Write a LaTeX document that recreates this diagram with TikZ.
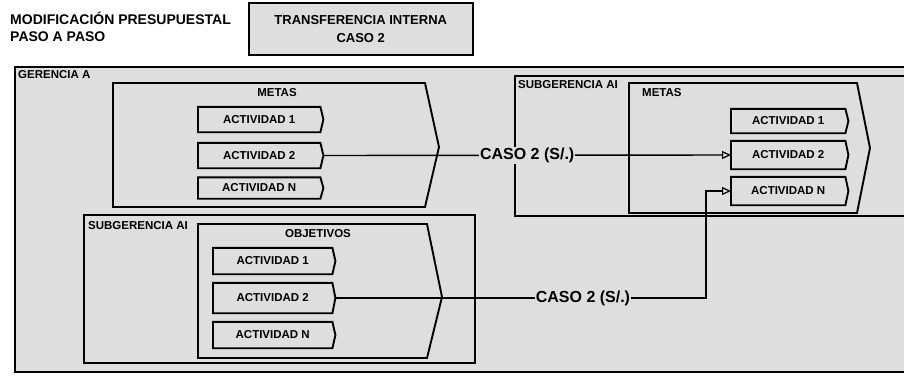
\documentclass[tikz,border=0pt]{standalone}
\usepackage{fontspec}
\setmainfont{Liberation Sans}
\usetikzlibrary{arrows.meta,calc}
\definecolor{stip}{gray}{0.87}
\tikzset{
 lbl/.style={font=\bfseries\fontsize{11.5}{13}\selectfont, inner sep=0pt},
 ttl/.style={font=\bfseries\fontsize{14}{17}\selectfont, inner sep=0pt},
 act/.style={font=\bfseries\fontsize{11.5}{13}\selectfont, inner sep=0pt, anchor=west},
 box/.style={draw, line width=1.9pt, fill=stip},
 outl/.style={draw, line width=1.9pt, line join=miter},
 conn/.style={line width=1.4pt},
 tipa/.style={-{Triangle[open,length=9pt,width=8pt,line width=1.2pt]}},
 caso/.style={font=\bfseries\fontsize{16}{18}\selectfont, fill=stip, inner sep=1pt}
}
\newcommand\chevron[2]{\draw[outl] (#1.north west) -- (#1.north east) -- ([xshift=#2]#1.east) -- (#1.south east) -- (#1.south west) -- cycle;}
\begin{document}
\begin{tikzpicture}[x=1pt,y=-1pt]
\useasboundingbox (0,0) rectangle (904,375);
\clip (0,0) rectangle (904,375);
% title
\node[ttl, anchor=base west] (t1) at (10,24) {MODIFICACIÓN PRESUPUESTAL};
\node[ttl, anchor=base west] (t2) at (10,41) {PASO A PASO};
\node[box, line width=1.5pt, minimum width=224pt, minimum height=52pt, anchor=north west, align=center,
  font=\bfseries\fontsize{13}{18}\selectfont, inner sep=0pt] (tbox) at (248,2) {TRANSFERENCIA INTERNA\\CASO 2};
% containers
\draw[box, line width=2.4pt] (15,67) rectangle (915,372);
\node[lbl, anchor=west] (gerA) at (18,75) {GERENCIA A};
\draw[box] (515,76) rectangle (915,216);
\node[lbl, anchor=west] (subR) at (518,85) {SUBGERENCIA AI};
\draw[box] (84,215) rectangle (475,363);
\node[lbl, anchor=west] (subL) at (88,226) {SUBGERENCIA AI};
% pentagons
\draw[outl] (113,83) -- (425,83) -- (439,147) -- (425,207) -- (113,207) -- cycle;
\node[lbl] (metasL) at (277,93) {METAS};
\draw[outl] (629,83) -- (857,83) -- (870,148) -- (857,213) -- (629,213) -- cycle;
\node[lbl, anchor=west] (metasR) at (642,93) {METAS};
\draw[outl] (198,224) -- (427,224) -- (442,297) -- (427,358) -- (198,358) -- cycle;
\node[lbl] (obj) at (318,234) {OBJETIVOS};
% activities upper-left
\node[act, minimum width=122pt, minimum height=25pt] (a1) at (198,119.5) {ACTIVIDAD 1};
\node[act, minimum width=122pt, minimum height=25pt] (a2) at (198,155.5) {ACTIVIDAD 2};
\node[act, minimum width=122pt, minimum height=21pt] (aN) at (198,188) {ACTIVIDAD N};
\chevron{a1}{3pt}\chevron{a2}{3pt}\chevron{aN}{3pt}
% activities right
\node[act, minimum width=114pt, minimum height=24pt] (r1) at (731,121) {ACTIVIDAD 1};
\node[act, minimum width=114pt, minimum height=28pt] (r2) at (731,155) {ACTIVIDAD 2};
\node[act, minimum width=114pt, minimum height=28pt] (rN) at (731,191) {ACTIVIDAD N};
\chevron{r1}{3pt}\chevron{r2}{3pt}\chevron{rN}{3pt}
% activities lower
\node[act, minimum width=119pt, minimum height=26pt] (b1) at (213,261) {ACTIVIDAD 1};
\node[act, minimum width=119pt, minimum height=30pt] (b2) at (213,298) {ACTIVIDAD 2};
\node[act, minimum width=119pt, minimum height=26pt] (bN) at (213,335) {ACTIVIDAD N};
\chevron{b1}{3pt}\chevron{b2}{3pt}\chevron{bN}{3pt}
% connectors
\draw[conn, tipa] ([xshift=3pt]a2.east) -- node[caso, pos=0.5] (c1) {CASO 2 (S/.)} (r2.west);
\coordinate (bend) at ([xshift=-25pt]rN.west);
\draw[conn, tipa] ([xshift=3pt]b2.east) -| node[caso, pos=0.334] (c2) {CASO 2 (S/.)} (bend) -- (rN.west);
\end{tikzpicture}
\end{document}
